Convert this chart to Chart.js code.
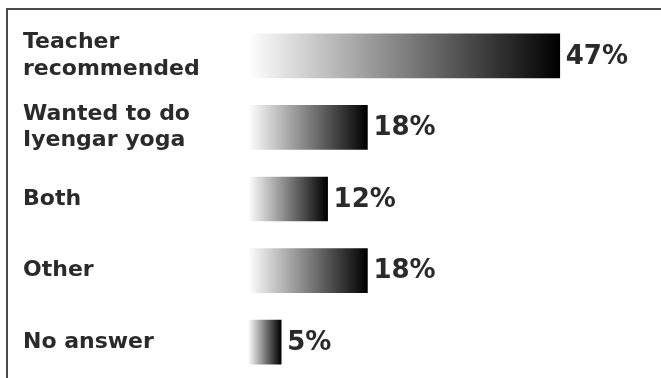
<!DOCTYPE html>
<html>
<head>
<meta charset="utf-8">
<script src="https://cdn.jsdelivr.net/npm/chart.js@4.4.1/dist/chart.umd.min.js"></script>
<style>
  html, body { margin: 0; padding: 0; background: #fff; }
  #wrap { width: 661px; height: 378px; position: relative; }
</style>
</head>
<body>
<div id="wrap"><canvas id="reasonChart"></canvas></div>
<script>
// Alasan memilih kelas (persen responden)
const reasonLabels = [
    ['Teacher', 'recommended'],
    ['Wanted to do', 'Iyengar yoga'],
    'Both',
    'Other',
    'No answer'
];
const reasonValues = [47, 18, 12, 18, 5];

const FONT = '"DejaVu Sans", "Liberation Sans", sans-serif';

/**
 * Gradien putih -> hitam sepanjang masing-masing batang
 */
const barGradient = (context) => {
    const chart = context.chart;
    const xScale = chart.scales.x;
    if (!xScale || !chart.chartArea || context.type !== 'data') return '#777';
    const x0 = xScale.getPixelForValue(0);
    const x1 = xScale.getPixelForValue(context.raw);
    if (!isFinite(x0) || !isFinite(x1) || x1 <= x0) return '#777';
    const g = chart.ctx.createLinearGradient(x0, 0, x1, 0);
    g.addColorStop(0, '#ffffff');
    g.addColorStop(1, '#000000');
    return g;
};

/**
 * Bingkai tipis di atas dan kiri
 */
const framePlugin = {
    id: 'frame',
    beforeDraw(chart) {
        const { ctx } = chart;
        ctx.save();
        ctx.strokeStyle = '#4a4a4a';
        ctx.lineWidth = 2;
        ctx.beginPath();
        ctx.moveTo(7, chart.height);
        ctx.lineTo(7, 9);
        ctx.lineTo(chart.width, 9);
        ctx.stroke();
        ctx.restore();
    }
};

/**
 * Label persentase di ujung batang
 */
const valueLabelPlugin = {
    id: 'valueLabels',
    afterDatasetsDraw(chart) {
        const { ctx } = chart;
        const meta = chart.getDatasetMeta(0);
        ctx.save();
        ctx.font = 'bold 26px ' + FONT;
        ctx.fillStyle = '#2a2a2a';
        ctx.textAlign = 'left';
        ctx.textBaseline = 'middle';
        meta.data.forEach((bar, i) => {
            ctx.fillText(reasonValues[i] + '%', bar.x + 6, bar.y + 1);
        });
        ctx.restore();
    }
};

new Chart(document.getElementById('reasonChart'), {
    type: 'bar',
    data: {
        labels: reasonLabels,
        datasets: [{
            data: reasonValues,
            backgroundColor: barGradient,
            borderWidth: 0,
            barThickness: 44
        }]
    },
    options: {
        indexAxis: 'y',
        responsive: true,
        maintainAspectRatio: false,
        animation: false,
        layout: { padding: { top: 20, bottom: 0, left: 23, right: 15 } },
        plugins: {
            legend: { display: false },
            tooltip: { enabled: false }
        },
        scales: {
            x: { display: false, min: 0, max: 60 },
            y: {
                grid: { display: false },
                border: { display: false },
                ticks: {
                    crossAlign: 'far',
                    color: '#2a2a2a',
                    font: { family: FONT, size: 22, weight: 'bold', lineHeight: 1.2 }
                },
                afterFit(scale) {
                    // lebar kolom label tetap, tanpa padding ekstra atas/bawah
                    scale.width = 225;
                    scale.paddingTop = 0;
                    scale.paddingBottom = 0;
                }
            }
        }
    },
    plugins: [framePlugin, valueLabelPlugin]
});
</script>
</body>
</html>
